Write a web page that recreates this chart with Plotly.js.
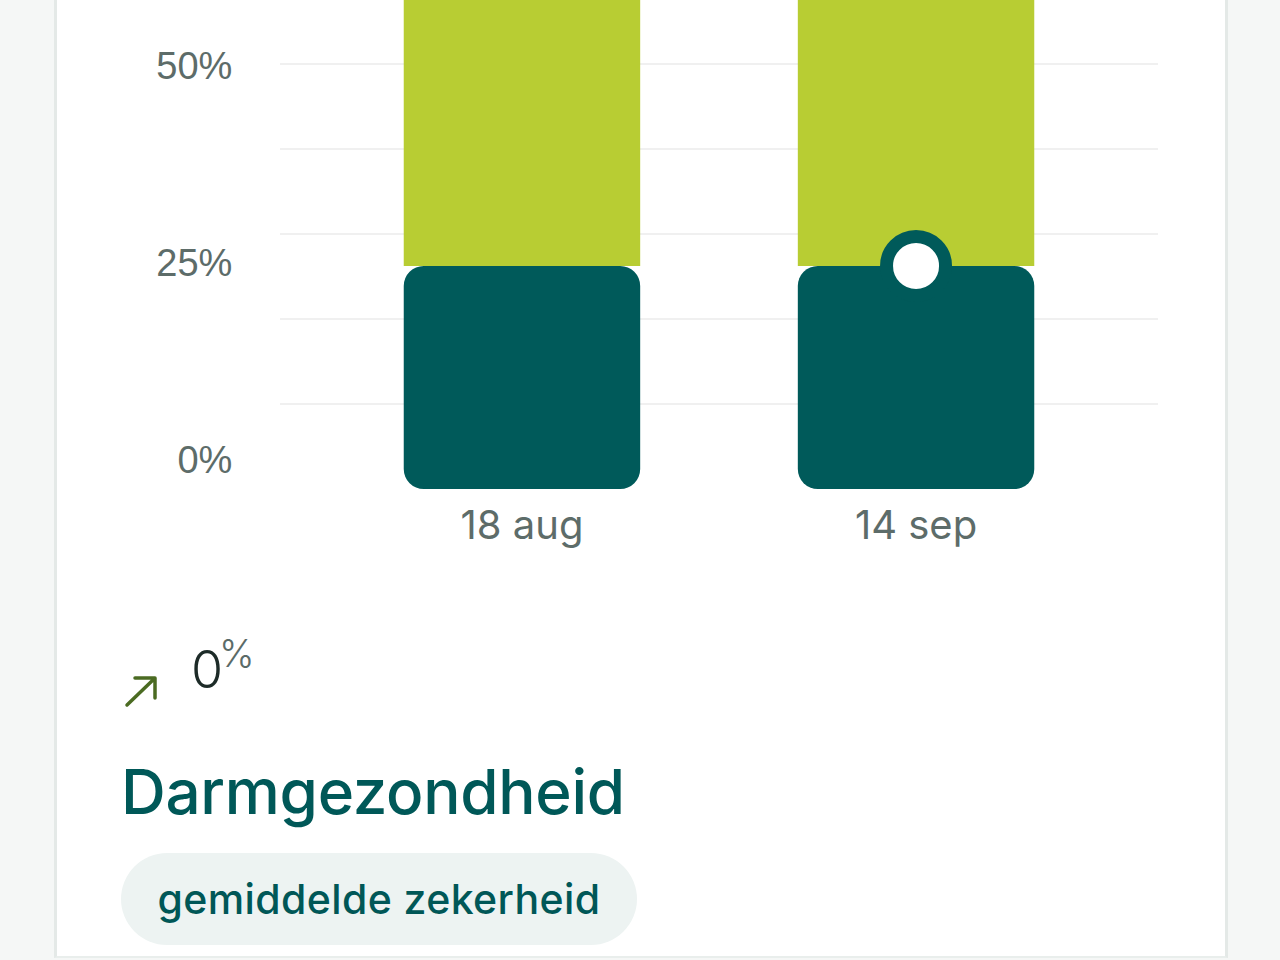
<!DOCTYPE html>
<html>
<head>
<meta charset="utf-8">
<script src="https://cdn.plot.ly/plotly-3.0.1.min.js"></script>
<style>
  html, body { margin: 0; padding: 0; width: 1280px; height: 960px; overflow: hidden; background: #f5f7f6; font-family: Inter, "Noto Sans", sans-serif; }
  .card { position: absolute; left: 54px; top: -10px; width: 1168px; height: 966px; background: #fff;
          border-left: 3px solid #e4e9e7; border-right: 3px solid #e4e9e7; border-bottom: 2px solid #e9eeec; }
  #chart { position: absolute; left: 0; top: 0; width: 1280px; height: 600px; }
  .change { position: absolute; left: 122px; top: 630px; }
  .change svg { position: absolute; left: 0; top: 44px; }
  .change .num { position: absolute; left: 69px; top: 14px; font-size: 52px; font-weight: 300; color: #1d2b28; line-height: 1; }
  .change .pct { position: absolute; left: 97px; top: 4px; font-size: 38px; font-weight: 300; color: #5b6b68; line-height: 1; }
  .title { position: absolute; left: 121px; top: 755px; font-size: 62px; font-weight: 500; color: #005858; letter-spacing: -0.3px; line-height: 1.2; }
  .pill { position: absolute; left: 121px; top: 853px; width: 516px; height: 92px; border-radius: 46px; background: #edf3f2;
          color: #005757; font-size: 41px; font-weight: 500; line-height: 92px; text-align: center; letter-spacing: 0.4px; }
</style>
</head>
<body>
<div class="card"></div>
<div id="chart"></div>
<div class="change">
  <svg width="40" height="36" viewBox="0 0 40 36">
    <path d="M5 31 L32 5 M13 4 L33 4 L33 24" stroke="#4b6b22" stroke-width="3.5" fill="none" stroke-linecap="round" stroke-linejoin="round"/>
  </svg>
  <span class="num">0</span><span class="pct">%</span>
</div>
<div class="title">Darmgezondheid</div>
<div class="pill">gemiddelde zekerheid</div>
<script>
// Darmgezondheid - stacked score bars

const dates = ['18 aug', '14 sep'];
const lowShare = [25, 25];      // dark teal part (%)
const highShare = [75, 75];     // lime part (%)
const markerIndex = 1;          // latest measurement gets the dot
const yTickVals = [0, 25, 50];

function createScoreChart() {
    if (typeof Plotly === 'undefined') return;

    const dark = '#005a5a';
    const lime = '#b8cd33';

    const lowBar = {
        x: dates,
        y: lowShare,
        base: lowShare.map(() => 0),
        type: 'bar',
        width: 0.6,
        marker: { color: dark, cornerradius: 20 },
        hoverinfo: 'skip'
    };

    const highBar = {
        x: dates,
        y: highShare,
        base: lowShare,
        type: 'bar',
        width: 0.6,
        marker: { color: lime, cornerradius: 0 },
        hoverinfo: 'skip'
    };

    const dot = {
        x: [dates[markerIndex]],
        y: [lowShare[markerIndex]],
        type: 'scatter',
        mode: 'markers',
        marker: { size: 59, color: '#ffffff', line: { color: dark, width: 13 } },
        cliponaxis: false,
        hoverinfo: 'skip'
    };

    // labels axis, offset from the bar axis like the original widget
    const labelAxis = {
        type: 'scatter',
        x: [dates[0]],
        y: [0],
        yaxis: 'y2',
        mode: 'markers',
        marker: { opacity: 0 },
        hoverinfo: 'skip'
    };

    const layout = {
        width: 1280,
        height: 600,
        margin: { l: 280, r: 122, t: 0, b: 111 },
        paper_bgcolor: 'rgba(0,0,0,0)',
        plot_bgcolor: 'rgba(0,0,0,0)',
        barmode: 'overlay',
        showlegend: false,
        xaxis: {
            type: 'category',
            range: [-0.614, 1.614],
            showgrid: false,
            zeroline: false,
            showline: false,
            ticks: 'outside',
            ticklen: 1,
            tickcolor: 'rgba(0,0,0,0)',
            tickfont: { family: 'Inter, "Noto Sans", sans-serif', size: 40, color: '#5d6c69' }
        },
        yaxis: {
            range: [0, 54.8],
            tick0: 0,
            dtick: 9.53,
            showticklabels: false,
            zeroline: false,
            gridcolor: '#f0f0f0',
            gridwidth: 2
        },
        yaxis2: {
            overlaying: 'y',
            side: 'left',
            range: [-3.68, 58.38],
            tickvals: yTickVals,
            ticktext: yTickVals.map(v => v + '%'),
            showgrid: false,
            zeroline: false,
            ticks: 'outside',
            ticklen: 39,
            tickcolor: 'rgba(0,0,0,0)',
            tickfont: { family: '"Liberation Sans", Arial, sans-serif', size: 38, color: '#5d6c69' }
        }
    };

    try {
        Plotly.newPlot('chart', [highBar, lowBar, dot, labelAxis], layout, { displayModeBar: false, staticPlot: true });
    } catch (error) {
        console.log('Error creating score chart:', error);
    }
}

createScoreChart();
</script>
</body>
</html>
